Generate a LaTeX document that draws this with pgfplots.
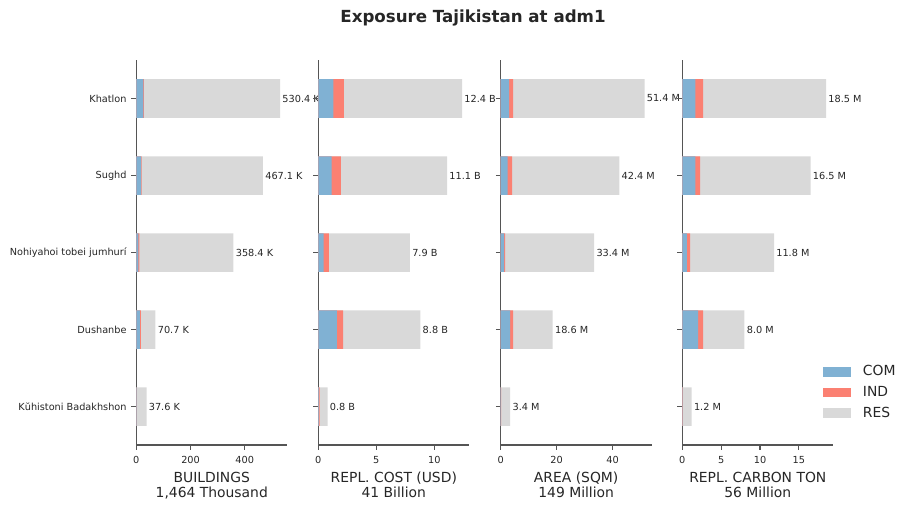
\documentclass[border=0pt]{standalone}
\usepackage{pgfplots}
\pgfplotsset{compat=1.18}
\usepackage{pgfplotstable}
\usepackage{fontspec}
\setmainfont{DejaVu Sans}

\definecolor{com}{HTML}{80B1D3}
\definecolor{ind}{HTML}{FB8072}
\definecolor{res}{HTML}{D9D9D9}
\definecolor{spine}{HTML}{555555}
\definecolor{txt}{HTML}{262626}

% y: 4 = Khatlon (top) ... 0 = Kuhistoni Badakhshon (bottom)
% bar ends: com = COM, comind = COM+IND, tot = COM+IND+RES
\pgfplotstableread[col sep=comma]{
y,com,comind,tot,lab
4,26,27.5,530.4,530.4 K
3,18,20,467.1,467.1 K
2,8,11.5,358.4,358.4 K
1,13.5,17,70.7,70.7 K
0,1,1.3,37.6,37.6 K
}\bldg
\pgfplotstableread[col sep=comma]{
y,com,comind,tot,lab
4,1.29,2.21,12.4,12.4 B
3,1.15,1.95,11.1,11.1 B
2,0.46,0.92,7.9,7.9 B
1,1.61,2.13,8.8,8.8 B
0,0.04,0.12,0.8,0.8 B
}\cost
\pgfplotstableread[col sep=comma]{
y,com,comind,tot,lab
4,2.99,4.43,51.4,51.4 M
3,2.50,4.05,42.4,42.4 M
2,1.20,1.56,33.4,33.4 M
1,3.35,4.43,18.6,18.6 M
0,0.10,0.15,3.4,3.4 M
}\area
\pgfplotstableread[col sep=comma]{
y,com,comind,tot,lab
4,1.68,2.67,18.5,18.5 M
3,1.68,2.28,16.5,16.5 M
2,0.60,0.99,11.8,11.8 M
1,2.03,2.68,8.0,8.0 M
0,0.05,0.08,1.2,1.2 M
}\carbon

\pgfplotsset{
  panel/.style={
    scale only axis, width=108.72pt, height=277.2pt,
    anchor=south west,
    xbar, bar width=0.5, bar shift=0pt,
    xmin=0, ymin=-0.5, ymax=4.5,
    ytick={0,...,4},
    axis x line*=bottom, axis y line*=left,
    axis line style={spine, line width=0.8pt, -},
    tick align=outside, major tick length=3.5pt,
    tick style={spine, line width=0.8pt},
    every tick label/.append style={font=\fontsize{7}{8}\selectfont, text=txt},
    xticklabel style={yshift=-1.4pt},
    /pgf/number format/assume math mode=true,
    xlabel style={font=\fontsize{10}{11}\selectfont, align=center, text=txt,
      at={(axis description cs:0.5,0)}, anchor=north, yshift=-19.3pt, inner sep=0pt},
    clip=false,
  },
  com/.style={fill=com, draw=none},
  ind/.style={fill=ind, draw=none},
  res/.style={fill=res, draw=none, nodes near coords, point meta=explicit symbolic,
    nodes near coords style={font=\fontsize{7}{8}\selectfont, text=txt, anchor=west, inner sep=1.5pt}},
  sq/.style={legend image code/.code={\fill[##1] (0pt,-3.35pt) rectangle (20pt,3.35pt); \path (26.5pt,0pt);}},
}

\begin{document}
\begin{tikzpicture}
\useasboundingbox (0,0) rectangle (655.2pt,367.2pt);

\node[font=\bfseries\fontsize{12}{14}\selectfont, text=txt] at (340.56pt,354.24pt) {Exposure Tajikistan at adm1};

\begin{axis}[panel, at={(98.14pt,46.8pt)}, xmax=556.9, xtick={0,200,400},
  yticklabels={Kŭhistoni Badakhshon, Dushanbe, Nohiyahoi tobei jumhurí, Sughd, Khatlon},
  xlabel={BUILDINGS\\1,464 Thousand}]
\addplot[res] table[x=tot, y=y, meta=lab] {\bldg};
\addplot[ind] table[x=comind, y=y] {\bldg};
\addplot[com] table[x=com, y=y] {\bldg};
\end{axis}

\begin{axis}[panel, at={(229.18pt,46.8pt)}, xmax=13.02, xtick={0,5,10},
  yticklabels={}, xlabel={REPL. COST (USD)\\41 Billion}]
\addplot[res] table[x=tot, y=y, meta=lab] {\cost};
\addplot[ind] table[x=comind, y=y] {\cost};
\addplot[com] table[x=com, y=y] {\cost};
\end{axis}

\begin{axis}[panel, at={(360.5pt,46.8pt)}, xmax=53.97, xtick={0,20,40},
  yticklabels={}, xlabel={AREA (SQM)\\149 Million}]
\addplot[res] table[x=tot, y=y, meta=lab] {\area};
\addplot[ind] table[x=comind, y=y] {\area};
\addplot[com] table[x=com, y=y] {\area};
\end{axis}

\begin{axis}[panel, at={(491.26pt,46.8pt)}, xmax=19.43, xtick={0,5,10,15},
  yticklabels={}, xlabel={REPL. CARBON TON\\56 Million},
  legend style={draw=none, fill=none, at={(axis description cs:0.932,0.214)}, anchor=north west,
    font=\fontsize{10}{12}\selectfont, text=txt, row sep=2pt, inner sep=0pt},
  legend cell align=left, reverse legend]
\addplot[res, sq] table[x=tot, y=y, meta=lab] {\carbon};
\addlegendentry{RES}
\addplot[ind, sq] table[x=comind, y=y] {\carbon};
\addlegendentry{IND}
\addplot[com, sq] table[x=com, y=y] {\carbon};
\addlegendentry{COM}
\end{axis}
\end{tikzpicture}
\end{document}
